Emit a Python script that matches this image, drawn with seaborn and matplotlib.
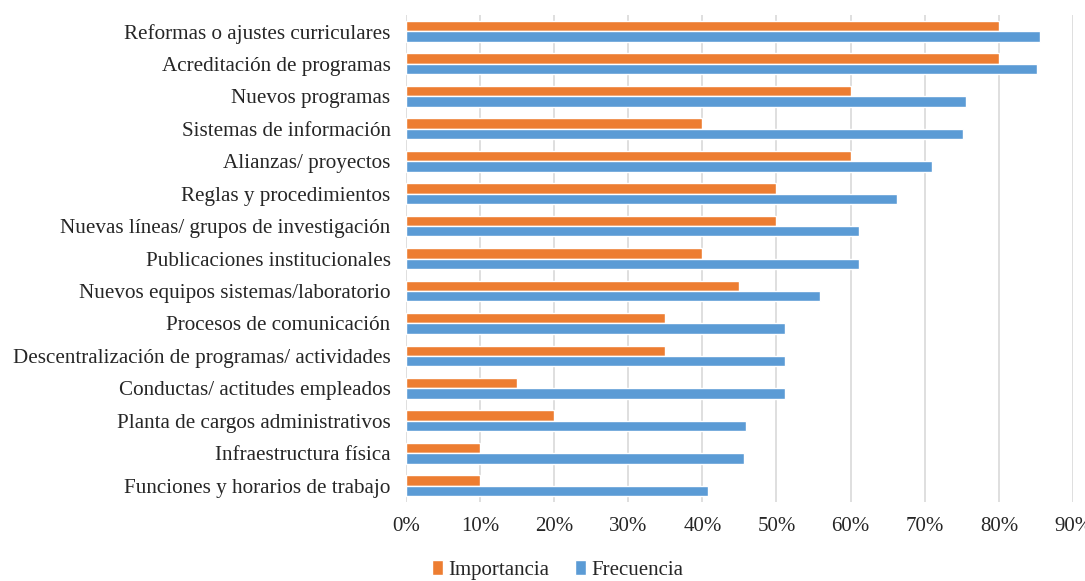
import matplotlib
matplotlib.use("Agg")
import matplotlib.pyplot as plt
import pandas as pd
import seaborn as sns
from matplotlib.ticker import PercentFormatter

sns.set_theme(style="white")
plt.rcParams["font.family"] = ["Liberation Serif", "DejaVu Serif"]

# Data (percent)
categorias = [
    "Reformas o ajustes curriculares",
    "Acreditación de programas",
    "Nuevos programas",
    "Sistemas de información",
    "Alianzas/ proyectos",
    "Reglas y procedimientos",
    "Nuevas líneas/ grupos de investigación",
    "Publicaciones institucionales",
    "Nuevos equipos sistemas/laboratorio",
    "Procesos de comunicación",
    "Descentralización de programas/ actividades",
    "Conductas/ actitudes empleados",
    "Planta de cargos administrativos",
    "Infraestructura física",
    "Funciones y horarios de trabajo",
]
importancia = [80, 80, 60, 40, 60, 50, 50, 40, 45, 35, 35, 15, 20, 10, 10]
frecuencia = [85.6, 85.2, 75.6, 75.2, 71.0, 66.2, 61.1, 61.1, 55.9, 51.1,
              51.1, 51.1, 45.9, 45.6, 40.8]
series = ["Importancia", "Frecuencia"]
colores = ["#ED7D31", "#5B9BD5"]

df = pd.DataFrame({
    "Categoria": categorias * 2,
    "Serie": [series[0]] * len(categorias) + [series[1]] * len(categorias),
    "Valor": importancia + frecuencia,
})

fig, ax = plt.subplots(figsize=(10.85, 5.81), dpi=100)
fig.subplots_adjust(left=0.374, right=0.989, top=0.974, bottom=0.136)

sns.barplot(data=df, y="Categoria", x="Valor", hue="Serie", order=categorias,
            hue_order=series, palette=colores, orient="h", width=0.64,
            saturation=1, gap=0, ax=ax)

ax.set_xlim(0, 90)
ax.set_xticks(range(0, 91, 10))
ax.xaxis.set_major_formatter(PercentFormatter(decimals=0))
ax.set_xlabel("")
ax.set_ylabel("")
ax.grid(axis="x", color="#D9D9D9", linewidth=1.2)
ax.set_axisbelow(True)
for s in ax.spines.values():
    s.set_visible(False)
ax.tick_params(axis="x", length=0, pad=11, labelsize=15)
ax.tick_params(axis="y", length=0, pad=11, labelsize=15.2)

handles, labels = ax.get_legend_handles_labels()
ax.get_legend().remove()
fig.legend(handles, labels, loc="lower center", bbox_to_anchor=(0.514, -0.012),
           ncol=2, frameon=False, fontsize=15, handlelength=0.55,
           handleheight=0.75, handletextpad=0.25, columnspacing=1.2,
           borderaxespad=0)

fig.savefig("out.png", dpi=100)
